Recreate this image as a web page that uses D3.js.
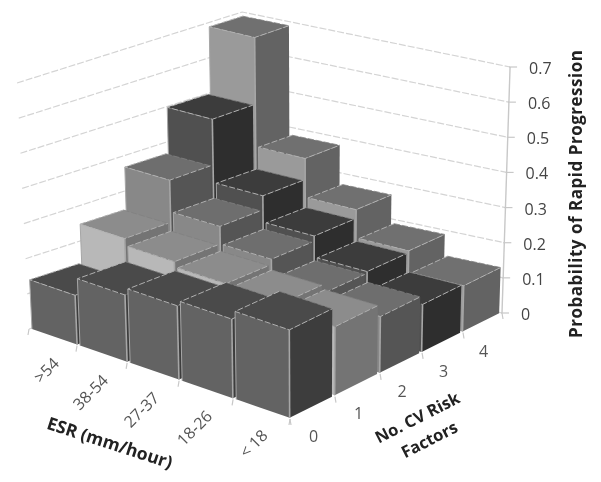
<!DOCTYPE html>
<html><head><meta charset="utf-8">
<style>html,body{margin:0;padding:0;background:#fff}svg{display:block;filter:blur(0.75px)}text{font-family:"Open Sans",sans-serif}</style>
<script src="https://cdn.jsdelivr.net/npm/d3@7"></script></head>
<body><div id="c"></div>
<script>
const esrLabels=[">54","38-54","27-37","18-26","< 18"];
const cvLabels=["0","1","2","3","4"];
const zTicks=[0,0.1,0.2,0.3,0.4,0.5,0.6,0.7];
const cv0=[0.14,0.19,0.21,0.225,0.25];
const cv1=[0.25,0.23,0.215,0.205,0.195];
const cv2=[0.37,0.28,0.23,0.18,0.16];
const cv3=[0.50,0.32,0.245,0.185,0.135];
const cv4=[0.69,0.38,0.27,0.19,0.13];
const series=[cv0,cv1,cv2,cv3,cv4];
const topCol=["#4a4a4a","#8c8c8c","#6e6e6e","#3c3c3c","#707070"];
const leftCol=["#636363","#b8b8b8","#888888","#505050","#9a9a9a"];
const rightCol=["#3d3d3d","#747474","#555555","#2e2e2e","#636363"];

const W=601,H=482;
const svg=d3.select("#c").append("svg").attr("width",W).attr("height",H);
const L=[29,329],F=[290,419],R=[502,313],B=[245,258],VP=[311,6133];
const uS=d3.scaleLinear().domain([0,1,2,3,4,5]).range([0,.184,.376,.575,.782,1]);
const vBack=d3.scaleLinear().domain([0,1,2,3,4,5]).range([0,.24,.45,.647,.842,1]);
const vFront=d3.scaleLinear().domain([0,1,2,3,4,5]).range([0,.212,.425,.623,.816,1]);
const zS=d3.scaleLinear().domain([0,0.7]).range([0,246]);
function proj(a,b,z){
  const u=uS(a),v=vBack(b)+(vFront(b)-vBack(b))*u;
  const p0=[L[0]+(F[0]-L[0])*u,L[1]+(F[1]-L[1])*u];
  const p1=[B[0]+(R[0]-B[0])*u,B[1]+(R[1]-B[1])*u];
  const fx=p0[0]+(p1[0]-p0[0])*v, fy=p0[1]+(p1[1]-p0[1])*v;
  const y=fy-zS(z);
  return [VP[0]+(fx-VP[0])*(VP[1]-y)/(VP[1]-fy),y];
}
const line=d3.line();
const poly=pts=>line(pts)+"Z";

// wall gridlines
const gGrid=svg.append("g");
zTicks.forEach(t=>{
  gGrid.append("path").attr("d",line([proj(0,0,t),proj(0,5,t),proj(5,5,t)]))
   .attr("fill","none").attr("stroke","#d4d4d4").attr("stroke-width",1.2).attr("stroke-dasharray","7 2");
  const p=proj(5,5,t);
  gGrid.append("line").attr("x1",p[0]-1).attr("x2",p[0]+7).attr("y1",p[1]).attr("y2",p[1]).attr("stroke","#c8c8c8").attr("stroke-width",1.2);
  svg.append("text").attr("x",p[0]+19).attr("y",p[1]+1).attr("dominant-baseline","central")
   .attr("font-size",16).attr("fill","#444").text(t);
});
gGrid.append("line").attr("x1",proj(5,5,0)[0]).attr("y1",proj(5,5,0)[1]).attr("x2",proj(5,5,.7)[0]).attr("y2",proj(5,5,.7)[1]).attr("stroke","#c8c8c8").attr("stroke-width",1.4);

// floor edge & ticks
const gEdge=svg.append("g").attr("stroke","#c8c8c8").attr("stroke-width",1.2);
d3.range(6).forEach(i=>{
  const p=proj(i,0,0); gEdge.append("line").attr("x1",p[0]).attr("y1",p[1]).attr("x2",p[0]-1).attr("y2",p[1]+6);
  const q=proj(5,i,0); gEdge.append("line").attr("x1",q[0]).attr("y1",q[1]).attr("x2",q[0]+1).attr("y2",q[1]+6);
});

// bars, back to front
const gBars=svg.append("g");
const cells=[];
d3.range(5).forEach(a=>d3.range(4,-1,-1).forEach(b=>cells.push({a,b,z:series[b][a]})));
const edge="#a6a6a6",inset=.03;
cells.forEach(c=>{
  const a=c.a+inset,b=c.b+inset,a1=c.a+1-inset,b1=c.b+1-inset,z=c.z,s=c.b;
  const g0=gBars.append("g");
  g0.append("path").attr("d",poly([proj(a,b,0),proj(a1,b,0),proj(a1,b,z),proj(a,b,z)])).attr("fill",leftCol[s]);
  g0.append("path").attr("d",poly([proj(a1,b,0),proj(a1,b1,0),proj(a1,b1,z),proj(a1,b,z)])).attr("fill",rightCol[s]);
  g0.append("path").attr("d",poly([proj(a,b,z),proj(a1,b,z),proj(a1,b1,z),proj(a,b1,z)])).attr("fill",topCol[s]);
  g0.append("path").attr("d",line([proj(a1,b,0),proj(a1,b,z)])).attr("stroke",edge).attr("stroke-width",1.6).attr("fill","none");
  g0.append("path").attr("d",line([proj(a,b,0),proj(a,b,z)])).attr("stroke",edge).attr("stroke-width",1).attr("fill","none");
  g0.append("path").attr("d",line([proj(a,b1,z),proj(a,b,z),proj(a1,b,z),proj(a1,b1,z)])).attr("stroke","#b0b0b0").attr("stroke-width",1).attr("fill","none").attr("stroke-dasharray","6 2");
  g0.append("path").attr("d",line([proj(a,b1,z),proj(a1,b1,z)])).attr("stroke","#808080").attr("stroke-width",.8).attr("fill","none").attr("stroke-dasharray","6 2");
});

// category labels
esrLabels.forEach((t,i)=>{
  const p=proj(i+.5,0,0);
  svg.append("text").attr("transform",`translate(${p[0]+3},${p[1]+23}) rotate(-45)`).attr("text-anchor","end")
   .attr("dominant-baseline","central").attr("font-size",16).attr("fill","#555").text(t);
});
cvLabels.forEach((t,i)=>{
  const p=proj(5,i+.5,0);
  svg.append("text").attr("x",p[0]+1).attr("y",p[1]+28).attr("text-anchor","middle")
   .attr("dominant-baseline","central").attr("font-size",16).attr("fill","#555").text(t);
});

// axis titles
const title=(t,x,y,r,fs,len)=>{const e=svg.append("text").attr("transform",`translate(${x},${y}) rotate(${r})`)
  .attr("text-anchor","middle").attr("dominant-baseline","central").attr("font-size",fs).attr("font-weight",700).attr("fill","#222").text(t);
  if(len)e.attr("textLength",len).attr("lengthAdjust","spacing");};
title("Probability of Rapid Progression",575,194,-90,17,288);
title("ESR (mm/hour)",110,442,18,17.5);
title("No. CV Risk",417,417,-27,16.5);
title("Factors",429,439,-27,16.5);
</script></body></html>
